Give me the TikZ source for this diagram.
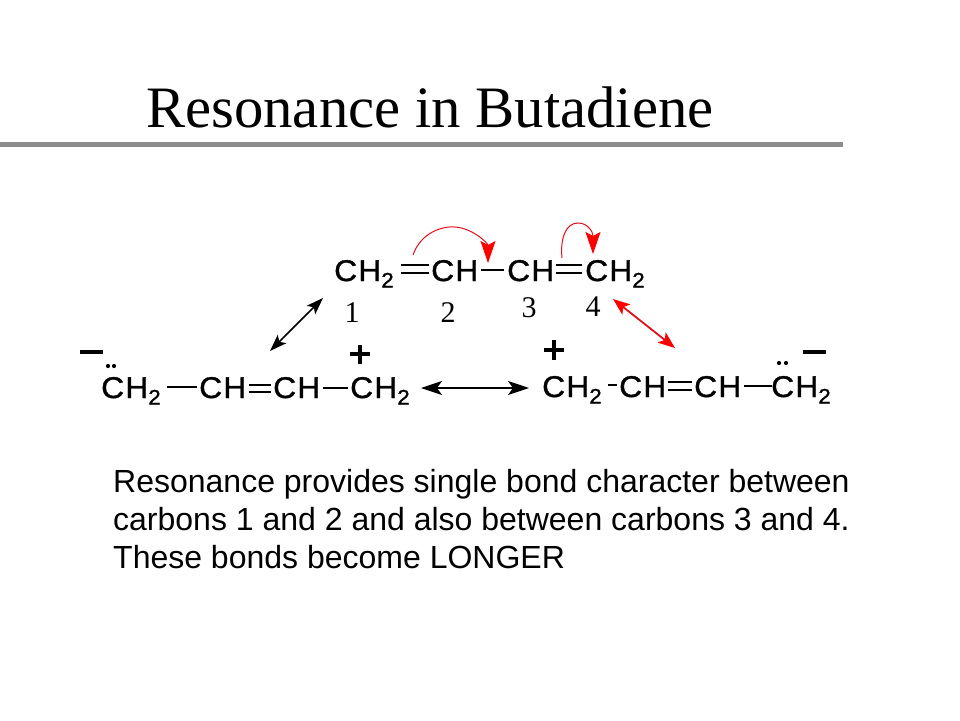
\documentclass[tikz,border=0pt]{standalone}
\usepackage{fontspec}
\setmainfont{Liberation Serif}
\newfontfamily\bodyfont{Liberation Sans}
\newfontfamily\chemfont[FakeStretch=1.06,FakeBold=1.2,LetterSpace=4]{Liberation Sans}
\usetikzlibrary{arrows.meta}
\newcommand{\CHtwo}{CH\raisebox{-6.5pt}{\fontsize{21}{21}\selectfont 2}}
\definecolor{rulegray}{HTML}{8C8C8C}
\definecolor{curvered}{HTML}{E0101C}
\tikzset{
  x=1pt,y=-1pt,
  chem/.style={anchor=base west,inner sep=0pt,font=\chemfont\fontsize{30}{30}\selectfont,text=black},
  num/.style={anchor=base,inner sep=0pt,font=\fontsize{30}{30}\selectfont,text=black},
  bond/.style={draw=black,line width=1.5pt},
  charge/.style={draw=black,line width=4pt},
  longhead/.tip={Stealth[length=21pt,width=14pt,inset=5pt]},
  diaghead/.tip={Stealth[length=17pt,width=12pt,inset=4pt]},
  redhead/.tip={Stealth[length=17pt,width=13pt,inset=4pt,red]},
  curved/.style={draw=curvered,line width=1pt,-{Stealth[length=22pt,width=15pt,inset=4pt,red]}},
  bodytext/.style={anchor=base west,inner sep=0pt,font=\bodyfont\fontsize{32}{32}\selectfont,text=black}
}
\begin{document}
\begin{tikzpicture}
\useasboundingbox (0,0) rectangle (960,720);
\node[anchor=base west,inner sep=0pt,font=\fontsize{58.7}{58.7}\selectfont] (title) at (146,127) {Resonance in Butadiene};
\coordinate (ruleL) at (0,144);
\coordinate (ruleR) at (843,144);
\draw[rulegray,line width=5pt] (ruleL) -- (ruleR);

% top molecule
\node[chem] (t1) at (334,281) {\CHtwo};
\node[chem] (t2) at (431,281) {CH};
\node[chem] (t3) at (507,281) {CH};
\node[chem] (t4) at (585,281) {\CHtwo};
\draw[bond] ([yshift=8pt]t1.base east -| 401,0) -- ([yshift=8pt]t2.base west -| 429,0);
\draw[bond] ([yshift=16pt]t1.base east -| 401,0) -- ([yshift=16pt]t2.base west -| 429,0);
\draw[bond] ([yshift=11pt]t2.base east -| 481,0) -- ([yshift=11pt]t3.base west -| 504,0);
\draw[bond] ([yshift=8pt]t3.base east -| 556,0) -- ([yshift=8pt]t4.base west -| 582,0);
\draw[bond] ([yshift=16pt]t3.base east -| 556,0) -- ([yshift=16pt]t4.base west -| 582,0);

\node[num] (n1) at (352,322) {1};
\node[num] (n2) at (448,322) {2};
\node[num] (n3) at (529,317) {3};
\node[num] (n4) at (593,316) {4};

% curved arrows
\coordinate (c1s) at (413,255);
\coordinate (c1e) at (488,263);
\coordinate (c2s) at (562,258);
\coordinate (c2e) at (593,254);
\draw[curved] (c1s) .. controls (421,232) and (443,226) .. (455,227) .. controls (472,228) and (488,243) .. (c1e);
\draw[curved] (c2s) .. controls (560,238) and (566,223) .. (578,223) .. controls (588,223) and (593,232) .. (c2e);

% left molecule
\node[chem] (l1) at (101,398) {\CHtwo};
\node[chem] (l2) at (199,398) {CH};
\node[chem] (l3) at (273,398) {CH};
\node[chem] (l4) at (350,398) {\CHtwo};
\draw[bond] ([yshift=11pt]l1.base east -| 167,0) -- ([yshift=11pt]l2.base west -| 197,0);
\draw[bond] ([yshift=6pt]l2.base east -| 249,0) -- ([yshift=6pt]l3.base west -| 271,0);
\draw[bond] ([yshift=13pt]l2.base east -| 249,0) -- ([yshift=13pt]l3.base west -| 271,0);
\draw[bond] ([yshift=10pt]l3.base east -| 323,0) -- ([yshift=10pt]l4.base west -| 348,0);
\coordinate (lmA) at (80,352);
\coordinate (lmB) at (103,352);
\draw[charge] (lmA) -- (lmB);
\coordinate (lpA) at (350,354);
\coordinate (lpB) at (370,354);
\coordinate (lpC) at (360,345);
\coordinate (lpD) at (360,364);
\draw[charge] (lpA) -- (lpB);
\draw[charge] (lpC) -- (lpD);
\fill (108,366) circle (2.1pt);
\fill (114,366) circle (2.1pt);

% right molecule
\node[chem] (r1) at (542,397) {\CHtwo};
\node[chem] (r2) at (619,397) {CH};
\node[chem] (r3) at (694,397) {CH};
\node[chem] (r4) at (771,397) {\CHtwo};
\draw[bond] ([yshift=12pt]r1.base east -| 608,0) -- ([yshift=12pt]r2.base west -| 617,0);
\draw[bond] ([yshift=7pt]r2.base east -| 668,0) -- ([yshift=7pt]r3.base west -| 692,0);
\draw[bond] ([yshift=15pt]r2.base east -| 668,0) -- ([yshift=15pt]r3.base west -| 692,0);
\draw[bond] ([yshift=11pt]r3.base east -| 744,0) -- ([yshift=11pt]r4.base west -| 772,0);
\coordinate (rpA) at (544,350);
\coordinate (rpB) at (564,350);
\coordinate (rpC) at (554,340);
\coordinate (rpD) at (554,360);
\draw[charge] (rpA) -- (rpB);
\draw[charge] (rpC) -- (rpD);
\coordinate (rmA) at (803,352);
\coordinate (rmB) at (826,352);
\draw[charge] (rmA) -- (rmB);
\fill (779,363) circle (2.1pt);
\fill (786,363) circle (2.1pt);

% resonance arrows
\coordinate (a1s) at (270,351);
\coordinate (a1e) at (323,298);
\draw[line width=1.6pt,{diaghead}-{diaghead}] (a1s) -- (a1e);
\coordinate (a2s) at (421,388);
\coordinate (a2e) at (529,388);
\draw[line width=1.6pt,{longhead}-{longhead}] (a2s) -- (a2e);
\coordinate (a3s) at (613,299);
\coordinate (a3e) at (675,348);
\draw[line width=1.8pt,draw=curvered,{redhead}-{redhead}] (a3s) -- (a3e);

% body text
\node[bodytext] (b1) at (113,492) {Resonance provides single bond character between};
\node[bodytext] (b2) at (113,530) {carbons 1 and 2 and also between carbons 3 and 4.};
\node[bodytext] (b3) at (113,568) {These bonds become LONGER};
\end{tikzpicture}
\end{document}
